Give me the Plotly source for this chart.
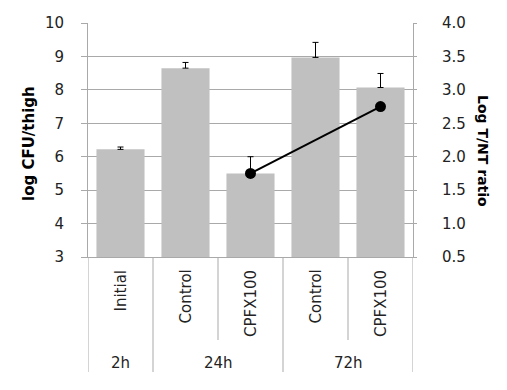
import plotly.graph_objects as go

# Data
categories = ["Initial", "Control", "CPFX100", "Control", "CPFX100"]
groups = ["2h", "24h", "72h"]
group_spans = [(0, 0), (1, 2), (3, 4)]
cfu_values = [6.22, 8.65, 5.5, 8.97, 8.07]
cfu_err = [0.07, 0.17, 0.5, 0.45, 0.42]
ratio_x = [2, 4]
ratio_values = [1.75, 2.75]

x_pos = list(range(len(categories)))
FONT = "DejaVu Sans"
GRID = "#a9a9a9"

fig = go.Figure()
fig.add_trace(go.Bar(
    x=x_pos, y=cfu_values, width=0.74,
    marker=dict(color="#c0c0c0", line=dict(width=0)),
    error_y=dict(type="data", symmetric=False, array=cfu_err,
                 arrayminus=[0] * len(cfu_err), color="black",
                 thickness=1, width=3),
    showlegend=False,
))
fig.add_trace(go.Scatter(
    x=ratio_x, y=ratio_values, yaxis="y2", mode="lines+markers",
    line=dict(color="black", width=2),
    marker=dict(color="black", size=11),
    showlegend=False,
))

OFF = 8  # page body margin
W, H = 507, 390
PL, PR, PT, PB = 88, 413, 23, 257  # target plot box in window pixels
ml = PL - OFF
mt = PT - OFF
pw = PR - PL
ph = PB - PT
mr = W - ml - pw
mb = H - mt - ph


def py(px):
    return (PB - px) / ph


def pxp(px):
    return (px - PL) / pw


shapes = []
outer = [-0.5, 0.5, 2.5, 4.5]
inner = [1.5, 3.5]
for xb in outer:
    shapes.append(dict(type="line", xref="x", yref="paper", x0=xb, x1=xb,
                       y0=0, y1=py(372), line=dict(color=GRID, width=1)))
for xb in inner:
    shapes.append(dict(type="line", xref="x", yref="paper", x0=xb, x1=xb,
                       y0=0, y1=py(340), line=dict(color=GRID, width=1)))

annotations = []
for xi, lab in zip(x_pos, categories):
    annotations.append(dict(x=xi, y=py(268), xref="x", yref="paper",
                            text=lab, textangle=-90, showarrow=False,
                            xanchor="center", yanchor="top",
                            font=dict(family=FONT, size=15, color="#222")))
for g, (a, b) in zip(groups, group_spans):
    annotations.append(dict(x=(a + b) / 2, y=py(363), xref="x", yref="paper",
                            text=g, showarrow=False, xanchor="center",
                            yanchor="middle",
                            font=dict(family=FONT, size=15, color="#222")))
annotations.append(dict(x=pxp(29), y=py(144), xref="paper", yref="paper",
                        text="<b>log CFU/thigh</b>", textangle=-90,
                        showarrow=False, xanchor="center", yanchor="middle",
                        font=dict(family=FONT, size=15, color="black")))
annotations.append(dict(x=pxp(483), y=py(151), xref="paper", yref="paper",
                        text="<b>Log T/NT ratio</b>", textangle=90,
                        showarrow=False, xanchor="center", yanchor="middle",
                        font=dict(family=FONT, size=14, color="black")))

fig.update_layout(
    width=W, height=H,
    margin=dict(l=ml, r=mr, t=mt, b=mb, autoexpand=False),
    plot_bgcolor="white", paper_bgcolor="white",
    font=dict(family=FONT, size=15, color="#222"),
    xaxis=dict(range=[-0.5, 4.5], showticklabels=False, showgrid=False,
               zeroline=False, showline=True, linecolor=GRID, linewidth=1,
               ticks="", automargin=False),
    yaxis=dict(range=[3, 10], dtick=1, showgrid=True, gridcolor=GRID,
               gridwidth=1, zeroline=False, showline=True, linecolor=GRID,
               linewidth=1, ticks="outside", ticklen=6, tickcolor=GRID,
               ticklabelstandoff=14, automargin=False),
    yaxis2=dict(range=[0.5, 4.0], dtick=0.5, tickformat=".1f",
                overlaying="y", side="right", showgrid=False, zeroline=False,
                showline=True, linecolor=GRID, linewidth=1, ticks="outside",
                ticklen=3, tickcolor=GRID, ticklabelstandoff=22,
                automargin=False),
    shapes=shapes, annotations=annotations,
)

fig.write_html("out.html")
